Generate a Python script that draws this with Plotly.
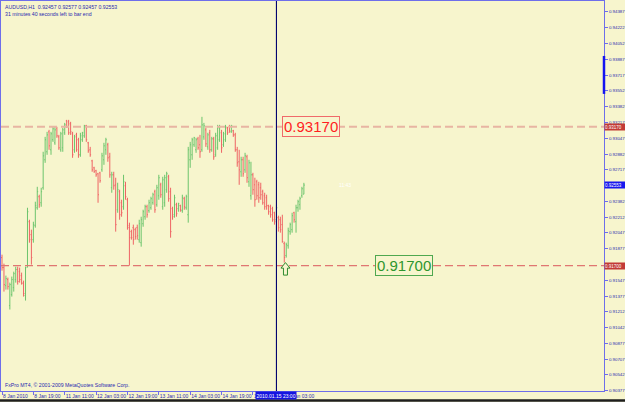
import plotly.graph_objects as go

# ---------------- data ----------------
open_ = [0.91785, 0.91679, 0.91488, 0.91552, 0.91277, 0.91393, 0.91467, 0.91552, 0.91658, 0.91636,
         0.91594, 0.91520, 0.91383, 0.91700, 0.92165, 0.92028, 0.91975, 0.92123, 0.92313, 0.92430,
         0.92366, 0.92525, 0.92821, 0.92906, 0.93117, 0.92927, 0.93033, 0.93001, 0.93159, 0.93064,
         0.92927, 0.92948, 0.93107, 0.93233, 0.93223, 0.93202, 0.93096, 0.92927, 0.93085, 0.93033,
         0.92874, 0.93033, 0.93075, 0.93181, 0.93001, 0.92927, 0.92810, 0.92736, 0.92705, 0.92673,
         0.92683, 0.92715, 0.92821, 0.92927, 0.92980, 0.92853, 0.92525, 0.92662, 0.92556, 0.92292,
         0.92483, 0.92366, 0.92324, 0.92546, 0.92398, 0.92102, 0.92060, 0.92102, 0.92081, 0.92102,
         0.91975, 0.91943, 0.92144, 0.92218, 0.92324, 0.92282, 0.92313, 0.92366, 0.92483, 0.92345,
         0.92440, 0.92556, 0.92324, 0.92366, 0.92504, 0.92641, 0.92483, 0.92303, 0.92239, 0.92345,
         0.92303, 0.92335, 0.92282, 0.92409, 0.92313, 0.92239, 0.92821, 0.92874, 0.92980, 0.92927,
         0.93043, 0.92980, 0.92927, 0.93064, 0.93138, 0.92958, 0.93107, 0.92927, 0.93043, 0.92874,
         0.92948, 0.93033, 0.93107, 0.92980, 0.93033, 0.93159, 0.93170, 0.93117, 0.93128, 0.93085,
         0.92927, 0.92800, 0.92694, 0.92821, 0.92715, 0.92853, 0.92588, 0.92440, 0.92662, 0.92556,
         0.92588, 0.92556, 0.92525, 0.92483, 0.92440, 0.92419, 0.92335, 0.92324, 0.92303, 0.92260,
         0.92186, 0.92208, 0.92186, 0.92134, 0.91933, 0.91806, 0.91911, 0.92060, 0.92081, 0.92260,
         0.92165, 0.92313, 0.92345, 0.92440, 0.92457]
high = [0.91816, 0.91721, 0.91594, 0.91573, 0.91520, 0.91584, 0.91636, 0.91689, 0.91689, 0.91679,
        0.91626, 0.91541, 0.91689, 0.92313, 0.92186, 0.92081, 0.92165, 0.92377, 0.92535, 0.92451,
        0.92525, 0.92906, 0.93064, 0.93117, 0.93138, 0.93117, 0.93170, 0.93170, 0.93170, 0.93085,
        0.93117, 0.93159, 0.93212, 0.93244, 0.93244, 0.93223, 0.93117, 0.93085, 0.93107, 0.93054,
        0.93107, 0.93117, 0.93191, 0.93191, 0.93011, 0.92958, 0.92821, 0.92747, 0.92715, 0.92683,
        0.92694, 0.92895, 0.93001, 0.93054, 0.93001, 0.92895, 0.92694, 0.92694, 0.92631, 0.92578,
        0.92504, 0.92398, 0.92662, 0.92588, 0.92419, 0.92155, 0.92081, 0.92134, 0.92102, 0.92134,
        0.92186, 0.92218, 0.92292, 0.92345, 0.92345, 0.92398, 0.92430, 0.92472, 0.92504, 0.92556,
        0.92662, 0.92578, 0.92641, 0.92662, 0.92694, 0.92662, 0.92525, 0.92324, 0.92451, 0.92366,
        0.92366, 0.92345, 0.92451, 0.92430, 0.92451, 0.92958, 0.93011, 0.93054, 0.93064, 0.93054,
        0.93064, 0.93085, 0.93276, 0.93212, 0.93159, 0.93107, 0.93138, 0.93064, 0.93064, 0.93107,
        0.93191, 0.93191, 0.93138, 0.93117, 0.93191, 0.93170, 0.93191, 0.93191, 0.93138, 0.93107,
        0.92958, 0.92927, 0.92853, 0.92853, 0.92895, 0.92874, 0.92821, 0.92800, 0.92683, 0.92631,
        0.92609, 0.92588, 0.92578, 0.92504, 0.92472, 0.92451, 0.92345, 0.92345, 0.92324, 0.92271,
        0.92345, 0.92229, 0.92218, 0.92239, 0.91954, 0.91943, 0.92102, 0.92155, 0.92260, 0.92271,
        0.92345, 0.92398, 0.92430, 0.92535, 0.92577]
low = [0.91647, 0.91425, 0.91446, 0.91446, 0.91235, 0.91372, 0.91425, 0.91520, 0.91499, 0.91520,
       0.91499, 0.91372, 0.91330, 0.91679, 0.91943, 0.91711, 0.91943, 0.92102, 0.92292, 0.92313,
       0.92324, 0.92504, 0.92789, 0.92874, 0.92927, 0.92874, 0.93011, 0.92980, 0.93054, 0.92927,
       0.92906, 0.92906, 0.93085, 0.93159, 0.93085, 0.93085, 0.92842, 0.92895, 0.92906, 0.92842,
       0.92853, 0.93011, 0.93054, 0.93011, 0.92895, 0.92853, 0.92694, 0.92683, 0.92641, 0.92366,
       0.92578, 0.92694, 0.92768, 0.92874, 0.92800, 0.92631, 0.92472, 0.92504, 0.92060, 0.92260,
       0.92186, 0.92218, 0.92292, 0.92398, 0.92081, 0.91700, 0.91975, 0.91922, 0.91975, 0.91975,
       0.91943, 0.91901, 0.92112, 0.92186, 0.92208, 0.92260, 0.92292, 0.92345, 0.92260, 0.92324,
       0.92398, 0.92419, 0.92292, 0.92324, 0.92472, 0.92377, 0.91996, 0.92186, 0.92208, 0.92218,
       0.92271, 0.92271, 0.92260, 0.92292, 0.92292, 0.92155, 0.92736, 0.92821, 0.92958, 0.92895,
       0.92927, 0.92842, 0.92906, 0.93033, 0.92958, 0.92927, 0.92895, 0.92906, 0.92821, 0.92853,
       0.92927, 0.93011, 0.92895, 0.92958, 0.93011, 0.93085, 0.93107, 0.93107, 0.93064, 0.92906,
       0.92747, 0.92556, 0.92641, 0.92641, 0.92683, 0.92578, 0.92535, 0.92398, 0.92451, 0.92324,
       0.92398, 0.92366, 0.92398, 0.92345, 0.92292, 0.92292, 0.92239, 0.92208, 0.92165, 0.92134,
       0.92165, 0.92060, 0.92049, 0.91943, 0.91732, 0.91785, 0.91880, 0.92028, 0.92049, 0.92155,
       0.92049, 0.92271, 0.92292, 0.92419, 0.92457]
close_ = [0.91679, 0.91499, 0.91562, 0.91478, 0.91499, 0.91552, 0.91615, 0.91658, 0.91531, 0.91552,
          0.91510, 0.91404, 0.91679, 0.92271, 0.91975, 0.91785, 0.92134, 0.92335, 0.92483, 0.92345,
          0.92483, 0.92863, 0.93033, 0.93085, 0.92969, 0.93096, 0.93149, 0.93138, 0.93075, 0.92948,
          0.93096, 0.93138, 0.93191, 0.93170, 0.93107, 0.93117, 0.92874, 0.93064, 0.92927, 0.92874,
          0.93075, 0.93107, 0.93181, 0.93033, 0.92916, 0.92874, 0.92715, 0.92694, 0.92662, 0.92451,
          0.92599, 0.92863, 0.92969, 0.93033, 0.92842, 0.92662, 0.92662, 0.92546, 0.92134, 0.92504,
          0.92239, 0.92260, 0.92588, 0.92430, 0.92123, 0.91996, 0.91996, 0.91975, 0.92007, 0.92017,
          0.92144, 0.92186, 0.92271, 0.92324, 0.92239, 0.92366, 0.92409, 0.92451, 0.92292, 0.92525,
          0.92631, 0.92451, 0.92609, 0.92631, 0.92673, 0.92409, 0.92060, 0.92218, 0.92419, 0.92250,
          0.92356, 0.92292, 0.92419, 0.92324, 0.92430, 0.92927, 0.92980, 0.93033, 0.93054, 0.93033,
          0.92948, 0.92906, 0.93191, 0.93181, 0.92990, 0.93085, 0.92927, 0.93043, 0.92853, 0.93075,
          0.93159, 0.93170, 0.92948, 0.93096, 0.93170, 0.93107, 0.93128, 0.93181, 0.93085, 0.92927,
          0.92789, 0.92715, 0.92821, 0.92673, 0.92863, 0.92631, 0.92789, 0.92662, 0.92504, 0.92398,
          0.92440, 0.92419, 0.92451, 0.92366, 0.92324, 0.92335, 0.92271, 0.92239, 0.92186, 0.92165,
          0.92313, 0.92102, 0.92081, 0.91954, 0.91785, 0.91922, 0.92070, 0.92134, 0.92229, 0.92186,
          0.92313, 0.92377, 0.92409, 0.92514, 0.92553]

tick_bars = [0, 16, 32, 48, 64, 80, 96, 112, 128, 144]
tick_labels = ["8 Jan 2010", "8 Jan 19:00", "11 Jan 11:00", "12 Jan 03:00", "12 Jan 19:00",
               "13 Jan 11:00", "14 Jan 03:00", "14 Jan 19:00", "15 Jan 11:00", "18 Jan 03:00"]
# visible price-scale labels (those fully covered by the coloured markers are omitted)
price_ticks = [0.94387, 0.94222, 0.94052, 0.93887, 0.93717, 0.93552, 0.93382, 0.93217, 0.93047,
               0.92882, 0.92717, 0.92382, 0.92212, 0.92047, 0.91877, 0.91547,
               0.91377, 0.91212, 0.91042, 0.90877, 0.90707, 0.90542, 0.90377]
levels = [0.93170, 0.91700]
level_text = ["0.93170", "0.91700"]
VLINE_BAR = 140
VLINE_LABEL = "2010.01.15 23:00"
ARROW_BAR = 144
scale_mark = [0.93519, 0.93921]
title_lines = ["AUDUSD,H1  0.92457 0.92577 0.92457 0.92553",
               "31 minutes 40 seconds left to bar end"]
copyright_text = "FxPro MT4, \u00a9 2001-2009 MetaQuotes Software Corp."

# ---------------- styling ----------------
BG = "#F7F5CD"
FG = "#2A2AB0"
FRAME = "#6E6EEA"
FONT = "Liberation Sans, Arial, sans-serif"

x = list(range(len(close_)))

fig = go.Figure()
fig.add_trace(go.Ohlc(
    x=x, open=open_, high=high, low=low, close=close_,
    increasing=dict(line=dict(color="#6CC46C", width=1)),
    decreasing=dict(line=dict(color="#EE6464", width=1)),
    tickwidth=0.45, hoverinfo="skip", showlegend=False,
))

shapes = [
    dict(type="line", xref="paper", yref="y", x0=0, x1=1, y0=levels[0], y1=levels[0],
         line=dict(color="#E8B5A2", width=2, dash="8px,4px"), layer="above"),
    dict(type="line", xref="paper", yref="y", x0=0, x1=1, y0=levels[1], y1=levels[1],
         line=dict(color="#E07672", width=1.2, dash="8px,4px"), layer="above"),
    dict(type="line", xref="x", yref="paper", x0=VLINE_BAR, x1=VLINE_BAR, y0=0, y1=1,
         line=dict(color="#00006E", width=1.1), layer="above"),
    dict(type="line", xref="paper", yref="y", x0=1, x1=1, y0=scale_mark[0], y1=scale_mark[1],
         line=dict(color="#1414F0", width=2.5), layer="above"),
    dict(type="line", xref="paper", yref="paper", x0=-0.01, x1=1.05, y0=-0.0245, y1=-0.0245,
         line=dict(color="#1E1E1E", width=2.5), layer="above"),
    # hollow green up-arrow (pixel-sized, anchored below the lowest bar)
    dict(type="path", xref="x", yref="y", xsizemode="pixel", ysizemode="pixel",
         xanchor=ARROW_BAR + 0.6, yanchor=low[ARROW_BAR],
         path="M0,0 L4.5,-5.5 L2,-5.5 L2,-12.5 L-2,-12.5 L-2,-5.5 L-4.5,-5.5 Z",
         line=dict(color="#2E8B2E", width=1), fillcolor=BG, layer="above"),
]

ann = []
ann.append(dict(xref="paper", yref="paper", x=0.004, y=0.997, xanchor="left", yanchor="top",
                text="<br>".join(title_lines), showarrow=False, align="left",
                font=dict(family=FONT, size=5.2, color=FG)))
ann.append(dict(xref="paper", yref="paper", x=0.004, y=0.002, xanchor="left", yanchor="bottom",
                text=copyright_text, showarrow=False,
                font=dict(family=FONT, size=5.2, color=FG)))
box_pos = [0.514, 0.669]
box_col = [("#FF1E1E", "#F06A6A"), ("#2E962E", "#4FA84F")]
for lv, t, bx, (tc, bc) in zip(levels, level_text, box_pos, box_col):
    ann.append(dict(xref="paper", yref="y", x=bx, y=lv, xanchor="center", yanchor="middle",
                    text=t, showarrow=False, bgcolor=BG, bordercolor=bc, borderwidth=1,
                    borderpad=1, font=dict(family=FONT, size=15, color=tc)))
for lv, t in zip(levels, level_text):
    ann.append(dict(xref="paper", yref="y", x=1, y=lv, xanchor="left", yanchor="middle",
                    text=t, showarrow=False, bgcolor="#C23A36", borderpad=0, width=20,
                    height=6, align="left", font=dict(family=FONT, size=4.5, color="#FFFFFF")))
ann.append(dict(xref="paper", yref="y", x=1, y=close_[-1], xanchor="left", yanchor="middle",
                text=f"{close_[-1]:.5f}", showarrow=False, bgcolor="#1818EE", borderpad=0,
                width=20, height=6, align="left", font=dict(family=FONT, size=4.5, color="#FFFFFF")))
ann.append(dict(xref="x", yref="paper", x=VLINE_BAR, y=-0.0125, xanchor="center", yanchor="middle",
                text=VLINE_LABEL, showarrow=False, bgcolor="#1515E0", borderpad=0.5,
                font=dict(family=FONT, size=5, color="#FFFFFF")))
ann.append(dict(xref="x", yref="y", x=len(close_) + 20, y=close_[-1], xanchor="center",
                yanchor="middle", text="11:43", showarrow=False,
                font=dict(family=FONT, size=5, color="#FFFFFF")))

fig.update_layout(
    width=625, height=402, autosize=False,
    margin=dict(l=1, r=21, t=1, b=11, pad=0),
    paper_bgcolor=BG, plot_bgcolor=BG,
    shapes=shapes, annotations=ann,
    showlegend=False,
    xaxis=dict(range=[-0.51, 307.1], tickvals=tick_bars, ticktext=tick_labels,
               ticks="outside", ticklen=3, tickcolor=FRAME, tickangle=0,
               ticklabelposition="outside right", automargin=False,
               tickfont=dict(family=FONT, size=5, color=FG),
               showline=True, linecolor=FRAME, linewidth=1, mirror=True,
               showgrid=False, zeroline=False, rangeslider=dict(visible=False)),
    yaxis=dict(range=[0.90372, 0.94503], side="right", tickvals=price_ticks,
               ticktext=[f"{v:.5f}" for v in price_ticks], automargin=False,
               ticks="outside", ticklen=3, tickcolor=FRAME,
               tickfont=dict(family=FONT, size=4.4, color=FG),
               showline=True, linecolor=FRAME, linewidth=1, mirror=True,
               showgrid=False, zeroline=False),
)

fig.write_html("out.html")
